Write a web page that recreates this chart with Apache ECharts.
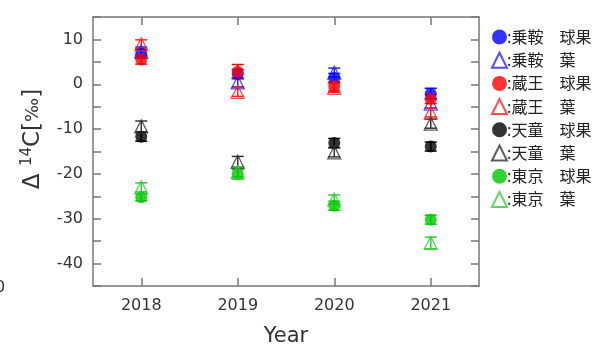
<!DOCTYPE html>
<html><head><meta charset="utf-8">
<script src="https://cdn.jsdelivr.net/npm/echarts@6/dist/echarts.min.js"></script>
<style>html,body{margin:0;padding:0;background:#fff}#c{width:598px;height:352px}</style>
</head><body><div id="c"></div>
<script>
const years = [2018, 2019, 2020, 2021];
const yTickLabels = [10, 0, -10, -20, -30, -40];
const seriesNames = [':乗鞍　球果', ':乗鞍　葉', ':蔵王　球果', ':蔵王　葉', ':天童　球果', ':天童　葉', ':東京　球果', ':東京　葉'];
const norikuraCone = [6.8, 2.3, 1.4, -2.1];
const norikuraCone_err = [1.0, 1.0, 1.0, 1.2];
const norikuraLeaf = [7.3, 0.4, 2.6, -4.3];
const norikuraLeaf_err = [1.0, 1.0, 1.0, 1.0];
const zaoCone = [5.5, 2.8, -0.5, -3.3];
const zaoCone_err = [1.0, 1.6, 1.0, 1.0];
const zaoLeaf = [8.9, -1.7, -0.8, -6.3];
const zaoLeaf_err = [1.0, 1.0, 1.0, 1.0];
const tendoCone = [-11.7, null, -13.1, -13.9];
const tendoCone_err = [1.0, 1.0, 1.0, 1.0];
const tendoLeaf = [-9.4, -17.3, -15.2, -8.8];
const tendoLeaf_err = [1.2, 1.2, 1.0, 1.0];
const tokyoCone = [-25.2, -20.1, -27.1, -30.2];
const tokyoCone_err = [0.8, 1.0, 1.0, 1.0];
const tokyoLeaf = [-23.0, -19.6, -25.7, -35.4];
const tokyoLeaf_err = [1.0, 1.0, 1.0, 1.3];

const defs = [
  {v: norikuraCone, e: norikuraCone_err, c: '#0000ff', fill: true},
  {v: norikuraLeaf, e: norikuraLeaf_err, c: '#2222ff', fill: false},
  {v: zaoCone, e: zaoCone_err, c: '#ff0000', fill: true},
  {v: zaoLeaf, e: zaoLeaf_err, c: '#ff2222', fill: false},
  {v: tendoCone, e: tendoCone_err, c: '#000000', fill: true},
  {v: tendoLeaf, e: tendoLeaf_err, c: '#333333', fill: false},
  {v: tokyoCone, e: tokyoCone_err, c: '#00c800', fill: true},
  {v: tokyoLeaf, e: tokyoLeaf_err, c: '#33cc33', fill: false}
];

const series = [];
defs.forEach((d, i) => {
  const pts = [];
  years.forEach((y, k) => { if (d.v[k] !== null) pts.push([y, d.v[k], d.e[k]]); });
  series.push({
    type: 'custom', name: seriesNames[i] + '_err', silent: true, z: 2,
    data: pts,
    renderItem: function (params, api) {
      const x = api.value(0), v = api.value(1), e = api.value(2);
      const p1 = api.coord([x, v + e]), p2 = api.coord([x, v - e]);
      const hw = 6;
      const st = {stroke: d.c, lineWidth: 1.5};
      return {type: 'group', children: [
        {type: 'line', shape: {x1: p1[0], y1: p1[1], x2: p2[0], y2: p2[1]}, style: st},
        {type: 'line', shape: {x1: p1[0]-hw, y1: p1[1], x2: p1[0]+hw, y2: p1[1]}, style: st},
        {type: 'line', shape: {x1: p2[0]-hw, y1: p2[1], x2: p2[0]+hw, y2: p2[1]}, style: st}
      ]};
    }
  });
  series.push({
    type: 'scatter', name: seriesNames[i], z: 3,
    symbol: d.fill ? 'circle' : 'triangle',
    symbolSize: d.fill ? 12 : 13,
    data: pts.map(p => [p[0], p[1]]),
    itemStyle: d.fill ? {color: d.c} : {color: 'rgba(255,255,255,0)', borderColor: d.c, borderWidth: 1.3},
    emphasis: {disabled: true}
  });
});

const axisCol = '#777';
const chart = echarts.init(document.getElementById('c'), null, {renderer: 'canvas'});
chart.setOption({
  animation: false,
  backgroundColor: '#fff',
  grid: {left: 93, right: 119, top: 17, bottom: 59, containLabel: false},
  xAxis: [{
    type: 'value', min: 2017.5, max: 2021.5, interval: 0.5,
    name: 'Year', nameLocation: 'middle', nameGap: 40,
    nameTextStyle: {fontSize: 21, color: '#333', fontFamily: 'DejaVu Sans'},
    axisLine: {show: true, onZero: false, lineStyle: {color: axisCol, width: 1.5}},
    axisTick: {show: true, inside: true, length: 8, customValues: years, lineStyle: {color: axisCol, width: 1.5}},
    axisLabel: {customValues: years, fontSize: 16, color: '#333', fontFamily: 'DejaVu Sans', margin: 12, formatter: v => String(v)},
    splitLine: {show: false}
  }, {
    type: 'value', position: 'top', min: 2017.5, max: 2021.5, interval: 0.5,
    axisLine: {show: true, onZero: false, lineStyle: {color: axisCol, width: 1.5}},
    axisTick: {show: true, inside: true, length: 8, customValues: years, lineStyle: {color: axisCol, width: 1.5}},
    axisLabel: {show: false}, splitLine: {show: false}
  }],
  yAxis: [{
    type: 'value', min: -45, max: 15, interval: 5,
    axisLine: {show: true, onZero: false, lineStyle: {color: axisCol, width: 1.5}},
    axisTick: {show: true, inside: true, length: 8, lineStyle: {color: axisCol, width: 1.5}},
    axisLabel: {fontSize: 16, color: '#333', fontFamily: 'DejaVu Sans', margin: 10,
      formatter: v => (yTickLabels.indexOf(v) >= 0 ? String(v) : '')},
    splitLine: {show: false}
  }, {
    type: 'value', position: 'right', min: -45, max: 15, interval: 5,
    axisLine: {show: true, onZero: false, lineStyle: {color: axisCol, width: 1.5}},
    axisTick: {show: true, inside: true, length: 8, lineStyle: {color: axisCol, width: 1.5}},
    axisLabel: {show: false}, splitLine: {show: false}
  }],
  legend: {
    orient: 'vertical', left: 486, top: 24, itemWidth: 15, itemHeight: 15, itemGap: 6.7,
    data: seriesNames,
    textStyle: {fontSize: 16, color: '#222', fontFamily: 'Noto Sans CJK JP', padding: [0, 0, 0, -5]},
    selectedMode: false
  },
  graphic: [{
    type: 'text', x: 33, y: 139, rotation: Math.PI / 2,
    style: {
      text: '{a|Δ }{b|14}{a|C[}{c|‰}{a|]}',
      align: 'center', verticalAlign: 'middle',
      rich: {
        a: {fontSize: 23, fill: '#333', fontFamily: 'DejaVu Sans', lineHeight: 26},
        b: {fontSize: 15, fill: '#333', fontFamily: 'DejaVu Sans', verticalAlign: 'top', lineHeight: 26, padding: [0, 0, 8, 0]},
        c: {fontSize: 18, fill: '#333', fontFamily: 'DejaVu Sans', lineHeight: 26}
      }
    }
  }, {
    type: 'text', x: -5, y: 280,
    style: {text: '0', fontSize: 16, fill: '#333', fontFamily: 'DejaVu Sans'}
  }],
  series: series
});
</script></body></html>
